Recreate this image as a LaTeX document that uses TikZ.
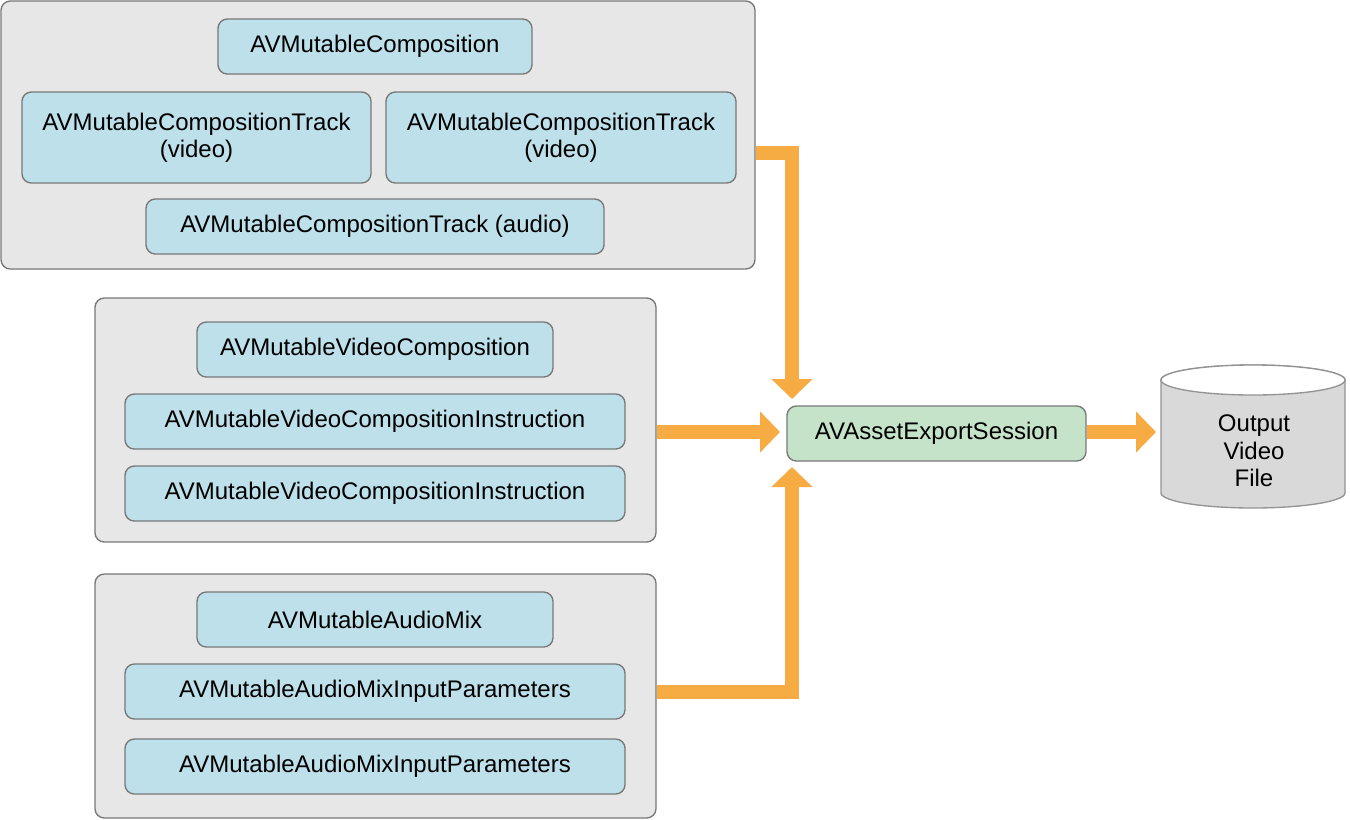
\documentclass[tikz,border=0pt]{standalone}
\usepackage{fontspec}
\setmainfont{Liberation Sans}
\usetikzlibrary{arrows.meta}
\definecolor{boxgray}{RGB}{230,231,230}
\definecolor{boxblue}{RGB}{189,224,234}
\definecolor{boxgreen}{RGB}{197,227,200}
\definecolor{arroworange}{RGB}{247,171,67}
\definecolor{edgegray}{RGB}{120,120,120}
\definecolor{cylgray}{RGB}{217,217,217}
\begin{document}
\begin{tikzpicture}[x=0.75pt,y=-0.75pt,
  groupbox/.style={draw=edgegray,line width=1pt,fill=boxgray,rounded corners=7pt,inner sep=0pt},
  classbox/.style={draw=edgegray,line width=1pt,fill=boxblue,rounded corners=7pt,inner sep=0pt,
     minimum height=41.25pt,align=center,font=\fontsize{18}{20.5}\selectfont},
  exportbox/.style={classbox,fill=boxgreen},
  bigarrow/.style={draw=arroworange,line width=10.5pt,line join=miter,
     -{Triangle[length=15pt,width=30pt]}},
  cyltext/.style={align=center,font=\fontsize{18}{20.5}\selectfont}]
\useasboundingbox (0,0) rectangle (1350,819);
% group boxes
\node[groupbox,minimum width=565.5pt,minimum height=201pt] (box1) at (378,135) {};
\node[groupbox,minimum width=420.75pt,minimum height=183pt] (box2) at (375.5,420) {};
\node[groupbox,minimum width=420.75pt,minimum height=183pt] (box3) at (375.5,696) {};
% box 1
\node[classbox,minimum width=235.5pt] (comp) at (375,46.5) {AVMutableComposition};
\node[classbox,minimum width=261.75pt,minimum height=68.25pt] (trackv1) at (196.5,137.5) {AVMutableCompositionTrack\\(video)};
\node[classbox,minimum width=262.5pt,minimum height=68.25pt] (trackv2) at (561,137.5) {AVMutableCompositionTrack\\(video)};
\node[classbox,minimum width=343.5pt] (tracka) at (375,226.5) {AVMutableCompositionTrack (audio)};
% box 2
\node[classbox,minimum width=267pt] (vcomp) at (375,349.5) {AVMutableVideoComposition};
\node[classbox,minimum width=375pt] (inst1) at (375,421.5) {AVMutableVideoCompositionInstruction};
\node[classbox,minimum width=375pt] (inst2) at (375,493.5) {AVMutableVideoCompositionInstruction};
% box 3
\node[classbox,minimum width=267pt] (amix) at (375,619.5) {AVMutableAudioMix};
\node[classbox,minimum width=375pt] (par1) at (375,691.5) {AVMutableAudioMixInputParameters};
\node[classbox,minimum width=375pt] (par2) at (375,766.5) {AVMutableAudioMixInputParameters};
% export session
\node[exportbox,minimum width=224.25pt] (export) at (936.5,433.5) {AVAssetExportSession};
% cylinder
\path[draw=edgegray!80,line width=1pt,fill=cylgray]
  (1161,380) -- (1161,493) arc[start angle=180,end angle=0,x radius=92,y radius=15]
  -- (1345,380) arc[start angle=0,end angle=-180,x radius=92,y radius=15] -- cycle;
\draw[edgegray!80,line width=1pt,fill=white] (1253,380) ellipse[x radius=92,y radius=15];
\node[cyltext] (output) at (1254,451) {Output\\Video\\File};
% arrow end points
\coordinate (tipTop) at (792,399);
\coordinate (tipMid) at (780,432);
\coordinate (tipBot) at (792,467);
\coordinate (tipOut) at (1156,432);
\draw[bigarrow] (box1.east |- 0,153) -| (tipTop);
\draw[bigarrow] (box2.east |- 0,432) -- (tipMid);
\draw[bigarrow] (box3.east |- 0,692) -| (tipBot);
\draw[bigarrow] (export.east |- tipOut) -- (tipOut);
\end{tikzpicture}
\end{document}
